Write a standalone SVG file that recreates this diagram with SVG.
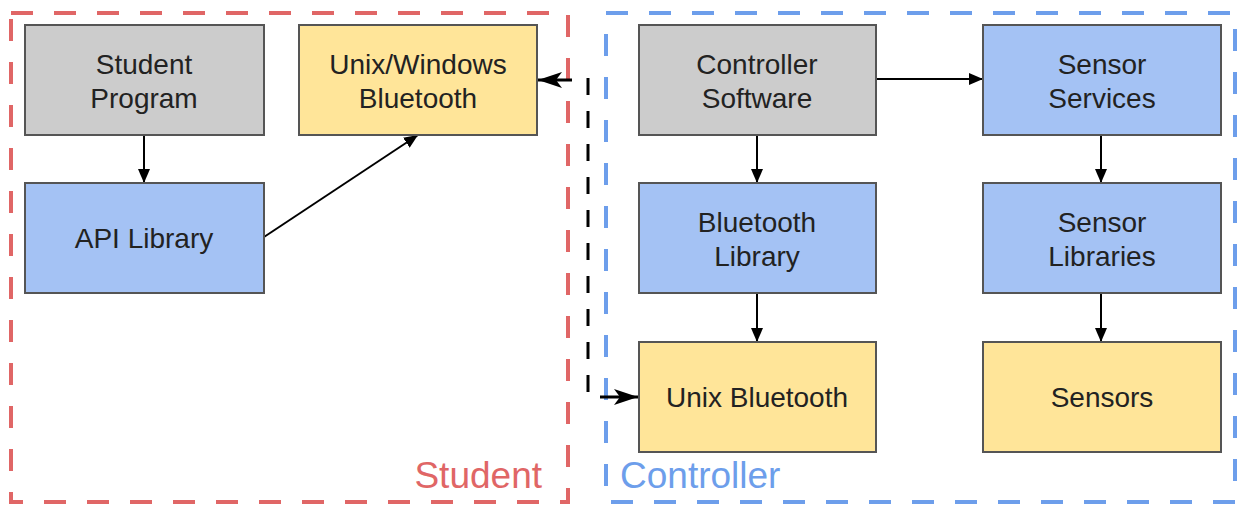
<svg xmlns="http://www.w3.org/2000/svg" width="1241" height="506" viewBox="0 0 1241 506">
<defs>
<marker id="ah" viewBox="0 0 14 12" refX="14" refY="6" markerWidth="14" markerHeight="12" markerUnits="userSpaceOnUse" orient="auto">
<path d="M0,0 L14,6 L0,12 z" fill="#000"/>
</marker>
<marker id="ahb" viewBox="0 0 24 16" refX="24" refY="8" markerWidth="24" markerHeight="16" markerUnits="userSpaceOnUse" orient="auto">
<path d="M0,0 L24,8 L0,16 L6,8 z" fill="#000"/>
</marker>
<style>
.box{stroke:#555;stroke-width:2}
.gray{fill:#cccccc}
.blue{fill:#a4c2f4}
.yellow{fill:#ffe599}
.t{font-family:"Liberation Sans",Arial,sans-serif;font-size:28px;fill:#222;text-anchor:middle}
.edge{stroke:#000;stroke-width:2;fill:none;marker-end:url(#ah)}
.link{stroke:#000;stroke-width:3;fill:none}
.grp{fill:none;stroke-width:4;stroke-dasharray:22 21}
.lbl{font-family:"Liberation Sans",Arial,sans-serif;font-size:37px}
</style>
</defs>
<rect width="1241" height="506" fill="#fff"/>
<g id="group-student">
<rect x="11" y="13" width="557" height="489" class="grp" stroke="#e06666"/>
<text x="542" y="488" class="lbl" fill="#e06666" text-anchor="end">Student</text>
</g>
<g id="group-controller">
<rect x="606" y="13" width="629" height="489" class="grp" stroke="#6d9eeb"/>
<text x="620" y="488" class="lbl" fill="#6d9eeb">Controller</text>
</g>
<g id="connectors">
<path class="edge" d="M144,135 V183"/>
<path class="edge" d="M264,237 L418,135"/>
<path class="edge" d="M757,135 V183"/>
<path class="edge" d="M876,79 H983"/>
<path class="edge" d="M1101,135 V183"/>
<path class="edge" d="M1101,293 V342"/>
<path class="edge" d="M757,293 V342"/>
<g id="e-bluetooth-link">
<path class="link" d="M572,80 H538" marker-end="url(#ahb)"/>
<path class="link" d="M588,78 V392" stroke-dasharray="17 16"/>
<path class="link" d="M600,397 H638" marker-end="url(#ahb)"/>
</g>
</g>
<g id="n-student-program">
<rect x="25" y="25" width="239" height="110" class="box gray"/>
<text x="144" y="74" class="t">Student</text>
<text x="144" y="108" class="t">Program</text>
</g>
<g id="n-unix-windows-bt">
<rect x="299" y="25" width="238" height="110" class="box yellow"/>
<text x="418" y="74" class="t">Unix/Windows</text>
<text x="418" y="108" class="t">Bluetooth</text>
</g>
<g id="n-api-library">
<rect x="25" y="183" width="239" height="110" class="box blue"/>
<text x="144" y="248" class="t">API Library</text>
</g>
<g id="n-controller-software">
<rect x="639" y="25" width="237" height="110" class="box gray"/>
<text x="757" y="74" class="t">Controller</text>
<text x="757" y="108" class="t">Software</text>
</g>
<g id="n-sensor-services">
<rect x="983" y="25" width="238" height="110" class="box blue"/>
<text x="1102" y="74" class="t">Sensor</text>
<text x="1102" y="108" class="t">Services</text>
</g>
<g id="n-bluetooth-library">
<rect x="639" y="183" width="237" height="110" class="box blue"/>
<text x="757" y="232" class="t">Bluetooth</text>
<text x="757" y="266" class="t">Library</text>
</g>
<g id="n-sensor-libraries">
<rect x="983" y="183" width="238" height="110" class="box blue"/>
<text x="1102" y="232" class="t">Sensor</text>
<text x="1102" y="266" class="t">Libraries</text>
</g>
<g id="n-unix-bluetooth">
<rect x="639" y="342" width="237" height="110" class="box yellow"/>
<text x="757" y="407" class="t">Unix Bluetooth</text>
</g>
<g id="n-sensors">
<rect x="983" y="342" width="238" height="110" class="box yellow"/>
<text x="1102" y="407" class="t">Sensors</text>
</g>
</svg>
